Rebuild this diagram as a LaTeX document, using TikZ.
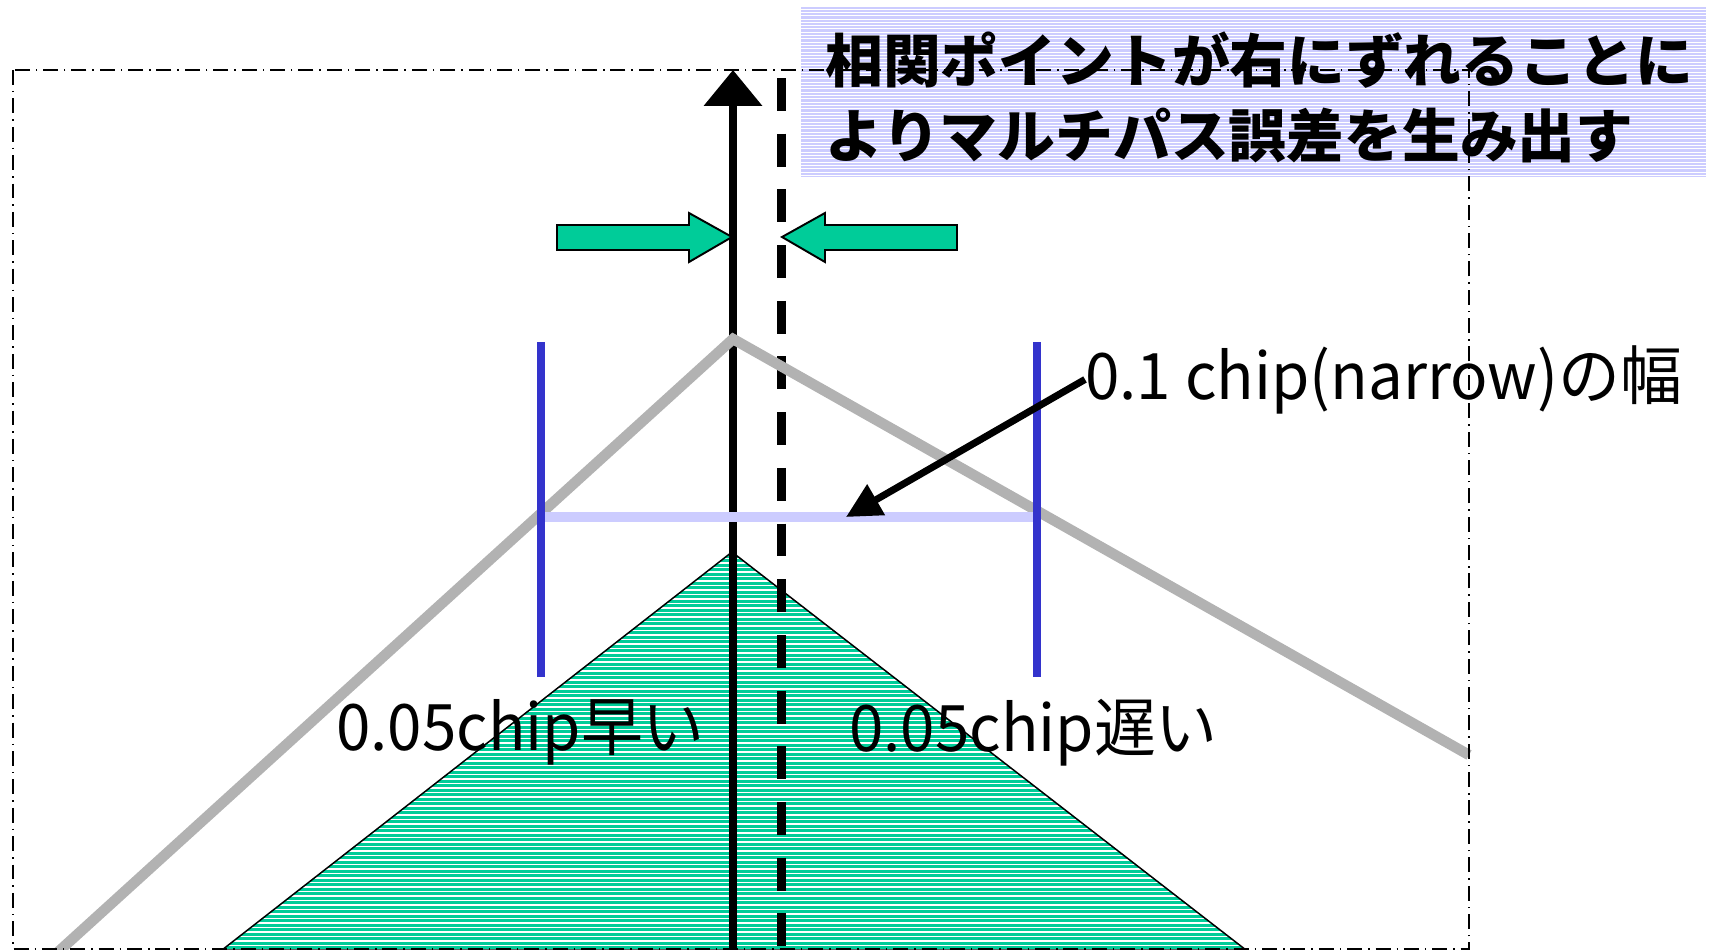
\documentclass[tikz,border=0pt]{standalone}
\usepackage{fontspec}
\setmainfont{Noto Sans CJK JP}
\usetikzlibrary{arrows.meta}
\definecolor{mygreen}{RGB}{0,204,153}
\definecolor{grayline}{RGB}{178,178,178}
\definecolor{bluev}{RGB}{51,51,204}
\definecolor{lav}{RGB}{204,204,255}
\newcommand{\narrowtext}[1]{\scalebox{0.965}[1]{#1}}
\tikzset{
  lbl/.style={inner sep=0pt, font=\fontsize{36.5pt}{40pt}\selectfont},
  ttl/.style={inner sep=0pt, font=\fontsize{32.9pt}{40pt}\selectfont\bfseries},
  greenarrow/.style={fill=mygreen, draw=black, line width=1.1pt, line join=miter},
  grayv/.style={grayline, line width=6pt},
  bluebar/.style={bluev, line width=4.25pt},
  framestyle/.style={line width=0.85pt, dash pattern=on 8.5pt off 3.4pt on 0.85pt off 3.4pt},
}
\begin{document}
\begin{tikzpicture}[x=0.02cm,y=-0.02cm]
\useasboundingbox (0,0) rectangle (1718,950);
\clip (0,0) rectangle (1718,950);
% coordinates
\coordinate (ta) at (732,552);
\coordinate (tl) at (222,950);
\coordinate (tr) at (1246,950);
\coordinate (axb) at (733,952);
\coordinate (axt) at (733,70);
\coordinate (dst) at (781.5,78);
\coordinate (dsb) at (781.5,952);
\coordinate (g1) at (58,952);
\coordinate (gp) at (733,339);
\coordinate (g2) at (1469,755);
\coordinate (lavl) at (540,517);
\coordinate (lavr) at (1037,517);
\coordinate (b1t) at (541,342);
\coordinate (b1b) at (541,677);
\coordinate (b2t) at (1037,342);
\coordinate (b2b) at (1037,677);
\coordinate (tip) at (846,517);
% green triangle
\fill[mygreen] (ta) -- (tl) -- (tr) -- cycle;
\begin{scope}
\clip (ta) -- (tl) -- (tr) -- cycle;
\foreach \y in {554,558.5,...,952} \draw[white, line width=0.6pt] (200,\y) -- (1300,\y);
\end{scope}
\draw[line width=0.85pt] (ta) -- (tl) -- (tr) -- cycle;
% axis and dashed line
\draw[line width=4.25pt, -{Triangle[length=20.4pt,width=32.3pt]}] (axb) -- (axt);
\draw[line width=4.7pt, dash pattern=on 18.7pt off 13pt] (dst) -- (dsb);
% gray correlation
\draw[grayv] (g1) -- (gp) -- (g2);
% lavender width bar and blue bars
\draw[lav, line width=6.2pt] (lavl) -- (lavr);
\draw[bluebar] (b1t) -- (b1b);
\draw[bluebar] (b2t) -- (b2b);
% green arrows
\filldraw[greenarrow] (557,225) -- (689,225) -- (689,213) -- (732,237) -- (689,262) -- (689,250) -- (557,250) -- cycle;
\filldraw[greenarrow] (957,225) -- (825,225) -- (825,213) -- (782,237) -- (825,262) -- (825,250) -- (957,250) -- cycle;
% title box
\fill[lav] (801,7) rectangle (1706,177);
\begin{scope}
\clip (801,7) rectangle (1706,177);
\foreach \y in {9,12.33,...,177} \draw[white, line width=0.55pt] (801,\y) -- (1706,\y);
\end{scope}
% frame
\draw[framestyle] (13,70) rectangle (1469,949);
% labels
\node[lbl, anchor=base west] (lab1) at (336,750) {\narrowtext{0.05chip早い}};
\node[lbl, anchor=base west] (lab2) at (849,751) {\narrowtext{0.05chip遅い}};
\node[lbl, anchor=base west] (lab3) at (1085,399) {\narrowtext{0.1 chip(narrow)の幅}};
\draw[line width=4pt, -{Triangle[length=19.8pt,width=19.3pt]}] (lab3.west) -- (tip);
\node[ttl, anchor=west] (t1) at (825,60) {相関ポイントが右にずれることに};
\node[ttl, anchor=west] (t2) at (825,135) {よりマルチパス誤差を生み出す};
\end{tikzpicture}
\end{document}
